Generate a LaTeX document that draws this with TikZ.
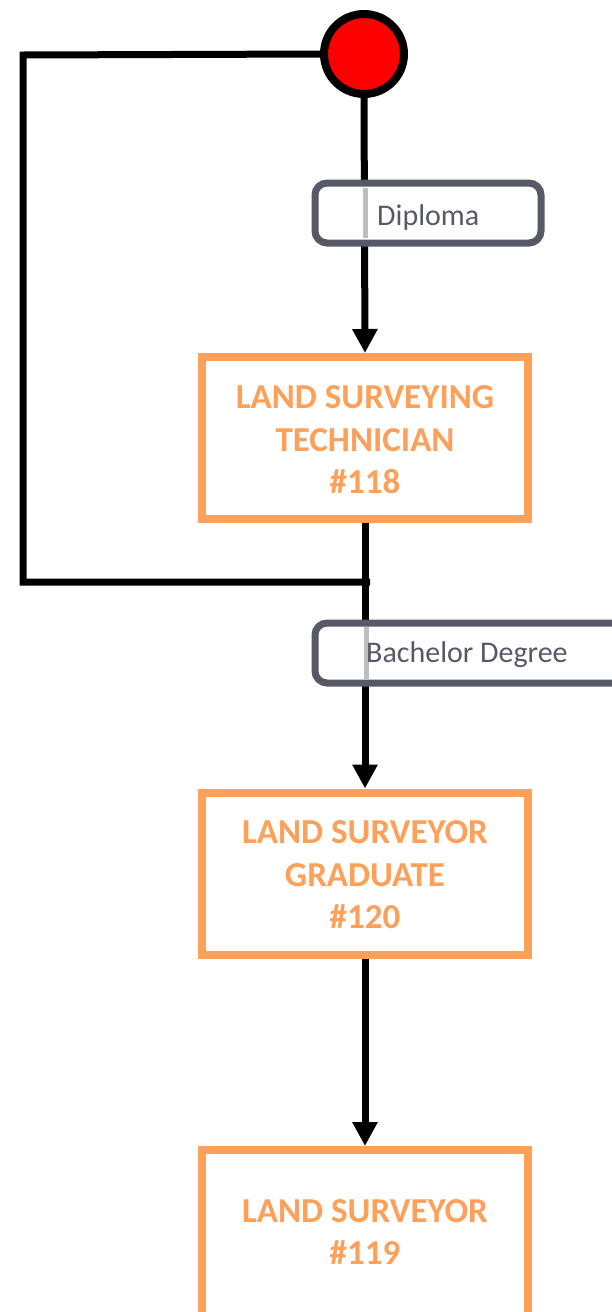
\documentclass[tikz,border=0pt]{standalone}
\usepackage{fontspec}
\setmainfont{Carlito}
\usetikzlibrary{arrows.meta}
\definecolor{stageorange}{RGB}{252,160,90}
\definecolor{labelgray}{RGB}{87,90,102}
\definecolor{lineshade}{RGB}{190,190,190}
\begin{document}
\begin{tikzpicture}[x=1pt,y=-1pt,
  flow/.style={line width=7pt,draw=black},
  arrowflow/.style={flow,-{Triangle[width=24pt,length=24pt]}},
  stagebox/.style={draw=stageorange,line width=8pt,fill=white,
    minimum width=326pt,align=center,text=stageorange,
    font=\fontsize{35}{42.5}\selectfont\bfseries,inner sep=0pt},
  edgelabel/.style={draw=labelgray,line width=7pt,rounded corners=12pt,
    fill=white,minimum height=60pt,inner sep=0pt},
  labeltext/.style={text=labelgray,font=\fontsize{30}{34}\selectfont,anchor=west,inner sep=0pt},
  startdot/.style={circle,draw=black,line width=8pt,fill=red,minimum size=80pt,inner sep=0pt}]
\useasboundingbox (0,0) rectangle (611,1312);

% start marker
\node[startdot] (start) at (364,54) {};

% stages
\node[stagebox,minimum height=162pt] (tech) at (365,438) {};
\node[text=stageorange,align=center,font=\fontsize{35}{42.5}\selectfont\bfseries,inner sep=0pt] (techtext) at (365,440) {LAND SURVEYING\\TECHNICIAN\\\#118};
\node[stagebox,minimum height=162pt] (grad) at (365,873.5) {};
\node[text=stageorange,align=center,font=\fontsize{35}{42.5}\selectfont\bfseries,inner sep=0pt] (gradtext) at (365,875) {LAND SURVEYOR\\GRADUATE\\\#120};
\node[stagebox,minimum height=180pt] (surv) at (365,1240) {};
\node[text=stageorange,align=center,font=\fontsize{35}{42.5}\selectfont\bfseries,inner sep=0pt] (survtext) at (365,1232) {LAND SURVEYOR\\\#119};

% junction below the technician stage
\coordinate (join) at (370,582);
\coordinate (corner1) at (23,55);
\coordinate (corner2) at (23,582);

% connectors
\draw[arrowflow] (start.south) -- (tech.north);
\draw[arrowflow] (tech.south) -- (grad.north);
\draw[arrowflow] (grad.south) -- (surv.north);
\draw[flow] (start.west) -- (corner1) -- (corner2) -- (join);

% edge labels
\node[edgelabel,minimum width=226pt] (diploma) at (428,213) {};
\draw[line width=5pt,lineshade] (365,188) -- (365,238);
\node[labeltext] (diplomatext) at (377,217) {Diploma};

\node[edgelabel,minimum width=340pt] (bachelor) at (485,653) {};
\draw[line width=5pt,lineshade] (366,627) -- (366,679);
\node[labeltext] (bachelortext) at (366,655) {Bachelor Degree};
\end{tikzpicture}
\end{document}
